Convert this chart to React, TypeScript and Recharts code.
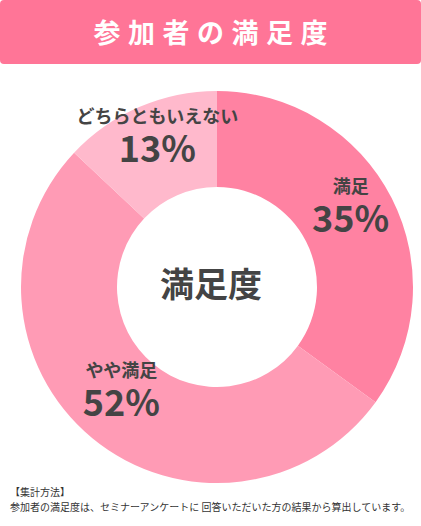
import React from "react";
import { PieChart, Pie, Cell } from "recharts";

const categories = ["満足", "やや満足", "どちらともいえない"];
const shares = [35, 52, 13];
const sliceColors = ["#ff82a2", "#ff9bb5", "#ffb9cc"];

const title = "参加者の満足度";
const centerLabel = "満足度";
const noteTitle = "【集計方法】";
const noteBody =
  "参加者の満足度は、セミナーアンケートに 回答いただいた方の結果から算出しています。";

const FONT = '"Noto Sans CJK JP", "Noto Sans", sans-serif';
const RAD = Math.PI / 180;

const chartData = categories.map((name, i) => ({
  name,
  value: shares[i],
  color: sliceColors[i],
}));

// percent sits on the slice's mid angle, the name just above it
function renderLabel(props: any) {
  const { cx, cy, midAngle, innerRadius, outerRadius, name, value } = props;
  const r = (innerRadius + outerRadius) / 2 + 2;
  const x = cx + r * Math.cos(-midAngle * RAD);
  const y = cy + r * Math.sin(-midAngle * RAD);
  return (
    <g>
      <text
        x={x}
        y={y - 26}
        textAnchor="middle"
        fill="#444"
        fontFamily={FONT}
        fontWeight={700}
        fontSize={18}
      >
        {name}
      </text>
      <text
        x={x}
        y={y + 13}
        textAnchor="middle"
        fill="#444"
        fontFamily={FONT}
        fontWeight={700}
        fontSize={36}
      >
        {value}%
      </text>
    </g>
  );
}

export default function App() {
  return (
    <div
      style={{
        position: "relative",
        width: 421,
        height: 526,
        background: "#fff",
        fontFamily: FONT,
        overflow: "hidden",
      }}
    >
      <style>{`body{margin:0}`}</style>
      <div
        style={{
          position: "absolute",
          left: 0,
          top: 0,
          width: 421,
          height: 64,
          background: "#ff7597",
          borderRadius: 4,
          color: "#fff",
          fontSize: 27,
          fontWeight: 700,
          letterSpacing: "7.5px",
          textAlign: "center",
          lineHeight: "63px",
          paddingLeft: "7.5px",
          boxSizing: "border-box",
        }}
      >
        {title}
      </div>
      <div style={{ position: "absolute", left: 0, top: 0 }}>
        <PieChart width={421} height={526}>
          <Pie
            data={chartData}
            dataKey="value"
            nameKey="name"
            cx={212}
            cy={282}
            innerRadius={100}
            outerRadius={196}
            startAngle={90}
            endAngle={-270}
            stroke="none"
            label={renderLabel}
            labelLine={false}
            isAnimationActive={false}
          >
            {chartData.map((entry, index) => (
              <Cell key={`cell-${index}`} fill={entry.color} />
            ))}
          </Pie>
          <text
            x={211}
            y={297}
            textAnchor="middle"
            fill="#444"
            fontFamily={FONT}
            fontWeight={700}
            fontSize={34}
          >
            {centerLabel}
          </text>
        </PieChart>
      </div>
      <div
        style={{
          position: "absolute",
          left: 10,
          top: 484,
          fontSize: 10,
          lineHeight: "15px",
          color: "#333",
          whiteSpace: "nowrap",
        }}
      >
        <div>{noteTitle}</div>
        <div>{noteBody}</div>
      </div>
    </div>
  );
}
